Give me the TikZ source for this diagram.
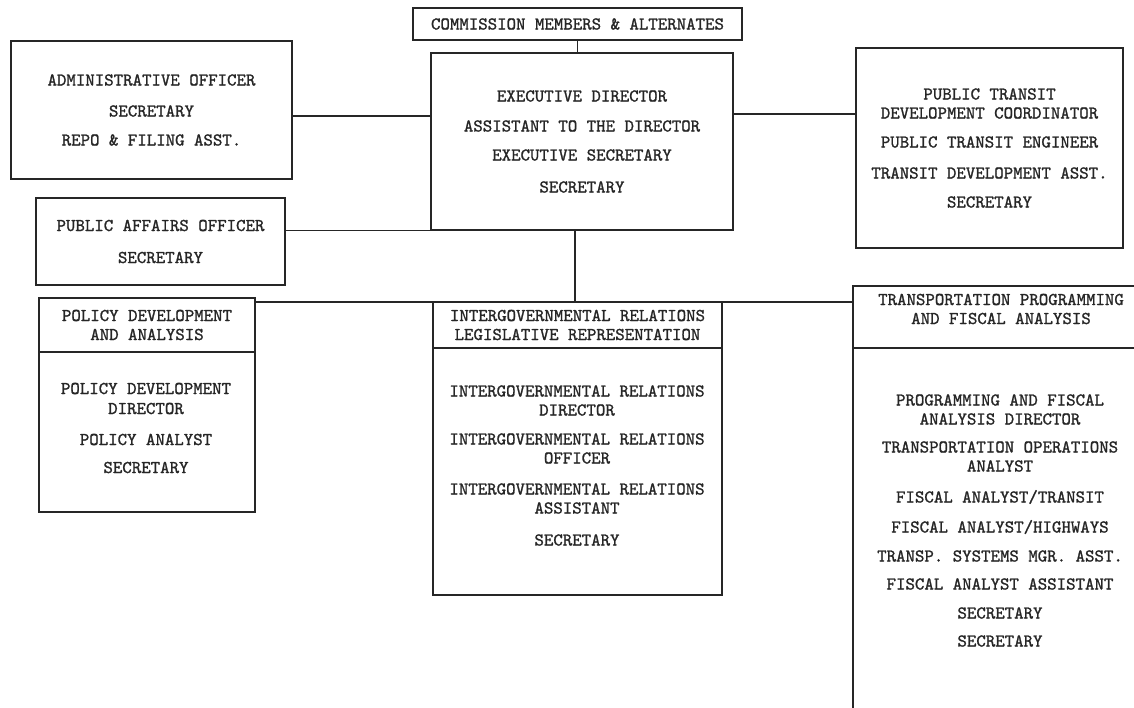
\documentclass[tikz,border=0pt]{standalone}
\usepackage{fontspec}
\newfontfamily\tw[Extension=.otf, UprightFont=*-regular, FakeBold=1.2]{lmmono10}
\definecolor{ink}{HTML}{262626}
\begin{document}
\begin{tikzpicture}[x=1pt,y=-1pt,
  every node/.style={font=\tw\fontsize{18}{19}\selectfont, text=ink},
  box/.style={draw=ink, line width=1.5pt, inner sep=0pt, align=center},
  txt/.style={inner sep=0pt, align=center},
  conn/.style={draw=ink, line width=1.3pt},
]
\useasboundingbox (0,0) rectangle (1134,707);
\fill[white] (0,0) rectangle (1134,707);
\clip (0,0) rectangle (1134,707);

% top row
\node[box, minimum width=329pt, minimum height=32pt] (comm) at (577.5,24)
  {COMMISSION MEMBERS \& ALTERNATES};
\node[box, minimum width=302pt, minimum height=177pt] (exec) at (582,141.5)
  {EXECUTIVE DIRECTOR\\[11pt]ASSISTANT TO THE DIRECTOR\\[10pt]EXECUTIVE SECRETARY\\[13pt]SECRETARY};
\node[box, minimum width=281pt, minimum height=138pt] (admin) at (151.5,110)
  {ADMINISTRATIVE OFFICER\\[12pt]SECRETARY\\[10pt]REPO \& FILING ASST.};
\node[box, minimum width=267pt, minimum height=200pt] (transit) at (989.5,148)
  {PUBLIC TRANSIT\\DEVELOPMENT COORDINATOR\\[10pt]PUBLIC TRANSIT ENGINEER\\[12pt]TRANSIT DEVELOPMENT ASST.\\[10pt]SECRETARY};
\node[box, minimum width=249pt, minimum height=87pt] (pa) at (160.5,241.5)
  {PUBLIC AFFAIRS OFFICER\\[13pt]SECRETARY};

% policy development
\node[box, minimum width=216pt, minimum height=54pt] (polh) at (147,325)
  {POLICY DEVELOPMENT\\AND ANALYSIS};
\node[box, minimum width=216pt, minimum height=160pt] (polb) at (147,432) {};
\node[txt] (polt) at (146,428)
  {POLICY DEVELOPMENT\\[1pt]DIRECTOR\\[12pt]POLICY ANALYST\\[9pt]SECRETARY};

% intergovernmental relations
\node[box, minimum width=289pt, minimum height=46pt] (igrh) at (577.5,325)
  {INTERGOVERNMENTAL RELATIONS\\LEGISLATIVE REPRESENTATION};
\node[box, minimum width=289pt, minimum height=247pt] (igrb) at (577.5,471.5) {};
\node[txt] (igrt) at (577,465.5)
  {INTERGOVERNMENTAL RELATIONS\\DIRECTOR\\[10pt]INTERGOVERNMENTAL RELATIONS\\OFFICER\\[12pt]INTERGOVERNMENTAL RELATIONS\\ASSISTANT\\[13pt]SECRETARY};

% transportation programming
\node[box, minimum width=307pt, minimum height=62pt] (progh) at (1006.5,317) {};
\node[txt] (proght) at (1001,309)
  {TRANSPORTATION PROGRAMMING\\AND FISCAL ANALYSIS};
\node[box, minimum width=307pt, minimum height=382pt] (progb) at (1006.5,539) {};
\node[txt] (progt) at (1000,520.5)
  {PROGRAMMING AND FISCAL\\ANALYSIS DIRECTOR\\[9pt]TRANSPORTATION OPERATIONS\\ANALYST\\[12pt]FISCAL ANALYST/TRANSIT\\[11pt]FISCAL ANALYST/HIGHWAYS\\[10pt]TRANSP. SYSTEMS MGR. ASST.\\[9pt]FISCAL ANALYST ASSISTANT\\[10pt]SECRETARY\\[9pt]SECRETARY};

% connectors
\coordinate (a1) at ([yshift=-6pt]admin.east);
\coordinate (t1) at ([yshift=34pt]transit.west);
\coordinate (jn) at (575,302);
\draw[conn] (comm.south) -- (comm.south |- exec.north);
\draw[conn] (a1) -- (a1 -| exec.west);
\draw[conn] (t1 -| exec.east) -- (t1);
\draw[conn] (pa.east |- exec.south west) -- (exec.south west);
\draw[conn] (jn |- exec.south) -- (jn);
\draw[conn] (jn -| polh.east) -- (jn -| progh.west);
\end{tikzpicture}
\end{document}
